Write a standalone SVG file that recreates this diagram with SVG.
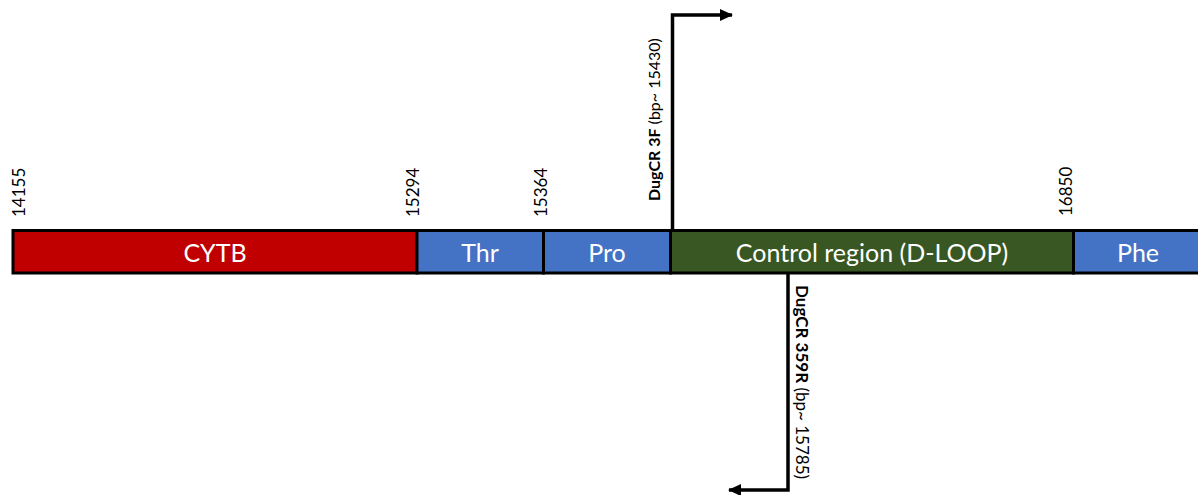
<svg xmlns="http://www.w3.org/2000/svg" width="1198" height="495" viewBox="0 0 1198 495">
  <defs>
    <style>
      .seg { stroke: #000; stroke-width: 3; }
      .seg-label { font-family: "Lato", "Liberation Sans", sans-serif; font-size: 25px; fill: #fff; text-anchor: middle; }
      .pos { font-family: "Lato", "Liberation Sans", sans-serif; font-size: 17px; fill: #000; }
      .primer { font-family: "Lato", "Liberation Sans", sans-serif; font-size: 16px; fill: #000; }
      .primer.long { font-size: 17px; }
      .primer tspan.name { font-weight: bold; }
      .wire { fill: none; stroke: #000; stroke-width: 3.5; }
    </style>
    <marker id="arrow" markerUnits="userSpaceOnUse" markerWidth="13" markerHeight="13" viewBox="0 0 13 13" refX="12" refY="6.5" orient="auto">
      <path d="M0,0.5 L13,6.5 L0,12.5 Z" fill="#000"/>
    </marker>
  </defs>
  <rect width="1198" height="495" fill="#fff"/>

  <!-- mitochondrial gene segments -->
  <g id="cytb">
    <rect class="seg" x="13" y="230.5" width="404" height="42.5" fill="#C00000"/>
    <text class="seg-label" x="215" y="262">CYTB</text>
  </g>
  <g id="thr">
    <rect class="seg" x="417" y="230.5" width="126.5" height="42.5" fill="#4472C4"/>
    <text class="seg-label" x="480" y="262">Thr</text>
  </g>
  <g id="pro">
    <rect class="seg" x="543.5" y="230.5" width="127" height="42.5" fill="#4472C4"/>
    <text class="seg-label" x="607" y="262">Pro</text>
  </g>
  <g id="control-region">
    <rect class="seg" x="670.5" y="230.5" width="403" height="42.5" fill="#385723"/>
    <text class="seg-label" x="872" y="262">Control region (D-LOOP)</text>
  </g>
  <g id="phe">
    <rect class="seg" x="1073.5" y="230.5" width="140" height="42.5" fill="#4472C4"/>
    <text class="seg-label" x="1138" y="262">Phe</text>
  </g>

  <!-- boundary positions -->
  <g id="positions">
    <text class="pos" transform="translate(25,217) rotate(-90)">14155</text>
    <text class="pos" transform="translate(418.5,217) rotate(-90)">15294</text>
    <text class="pos" transform="translate(546.5,217) rotate(-90)">15364</text>
    <text class="pos" transform="translate(1071.5,216) rotate(-90)">16850</text>
  </g>

  <!-- primer connectors -->
  <g id="connectors">
    <path class="wire" d="M672.5,229 V15 H732" marker-end="url(#arrow)"/>
    <path class="wire" d="M788,274 V490 H729" marker-end="url(#arrow)"/>
  </g>

  <!-- primer labels -->
  <g id="primer-3f">
    <text class="primer" transform="translate(660,201) rotate(-90)"><tspan class="name">DugCR 3F</tspan> (bp~ 15430)</text>
  </g>
  <g id="primer-359r">
    <text class="primer long" transform="translate(796,285) rotate(90)"><tspan class="name">DugCR 359R</tspan> (bp~ 15785)</text>
  </g>
</svg>
